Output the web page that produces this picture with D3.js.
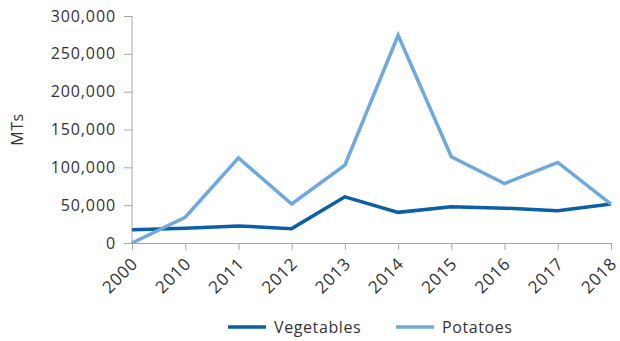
<!DOCTYPE html>
<html>
<head>
<meta charset="utf-8">
<script src="https://cdn.jsdelivr.net/npm/d3@7"></script>
<style>
  html, body { margin: 0; padding: 0; background: #fff; }
  svg text { font-family: "Open Sans", "Noto Sans", sans-serif; fill: #333; }
</style>
</head>
<body>
<svg id="chart" width="620" height="341"></svg>
<script>
// Years on the category axis
const years = ["2000", "2010", "2011", "2012", "2013", "2014", "2015", "2016", "2017", "2018"];
// Volumes in metric tonnes
const vegetables = [17500, 19500, 22500, 19000, 61000, 40500, 48000, 46000, 42500, 51500];
const potatoes = [0, 34000, 112500, 51500, 103000, 274500, 114000, 78500, 106500, 51500];
const yTicks = [0, 50000, 100000, 150000, 200000, 250000, 300000];
const seriesNames = ["Vegetables", "Potatoes"];
const seriesColors = ["#0b5fa5", "#6fa8dc"];

const svg = d3.select("#chart");
const margin = { left: 132, right: 9, top: 16, bottom: 98 };
const width = 620, height = 341;

const x = d3.scalePoint().domain(years).range([margin.left, width - margin.right]);
const y = d3.scaleLinear().domain([0, 300000]).range([height - margin.bottom, margin.top]);

const fmt = d3.format(",");

// Y axis
const yAxis = svg.append("g")
  .attr("transform", `translate(${margin.left},0)`)
  .call(d3.axisLeft(y).tickValues(yTicks).tickFormat(fmt).tickSize(8).tickPadding(8));
yAxis.selectAll("path, line").attr("stroke", "#a6a6a6");
yAxis.select(".domain").attr("d", `M-0.5,${y(300000)}V${y(0)}`).attr("transform", "translate(0.5,0)");
yAxis.selectAll("text").style("font-size", "16px").style("letter-spacing", "0.9px").attr("fill", "#333");

// X axis with diagonal year labels
const xAxis = svg.append("g")
  .attr("transform", `translate(0,${y(0)})`)
  .call(d3.axisBottom(x).tickSize(7).tickSizeOuter(0));
xAxis.selectAll("path, line").attr("stroke", "#a6a6a6");
xAxis.selectAll("text")
  .style("font-size", "17px")
  .style("letter-spacing", "0.7px")
  .attr("text-anchor", "end")
  .attr("fill", "#333")
  .attr("transform", "rotate(-45)")
  .attr("dx", "-11px")
  .attr("dy", "10px");

// Axis title
svg.append("text")
  .attr("transform", `translate(23,${(y(0) + y(300000)) / 2}) rotate(-90)`)
  .attr("text-anchor", "middle")
  .style("font-size", "16px")
  .style("letter-spacing", "0.5px")
  .text("MTs");

// Lines
const line = d3.line().x((d, i) => x(years[i])).y(d => y(d));
[vegetables, potatoes].forEach((vals, i) => {
  svg.append("path")
    .datum(vals)
    .attr("fill", "none")
    .attr("stroke", seriesColors[i])
    .attr("stroke-width", 3.5)
    .attr("stroke-linejoin", "miter")
    .attr("d", line);
});

// Legend
const legendX = [228, 396];
seriesNames.forEach((name, i) => {
  const g = svg.append("g").attr("transform", `translate(${legendX[i]},327)`);
  g.append("line").attr("x1", 0).attr("x2", 38).attr("y1", 0).attr("y2", 0)
    .attr("stroke", seriesColors[i]).attr("stroke-width", 3.5);
  g.append("text").attr("x", 46).attr("y", 0).attr("dy", "0.35em")
    .style("font-size", "16px").style("letter-spacing", "0.6px").text(name);
});
</script>
</body>
</html>
